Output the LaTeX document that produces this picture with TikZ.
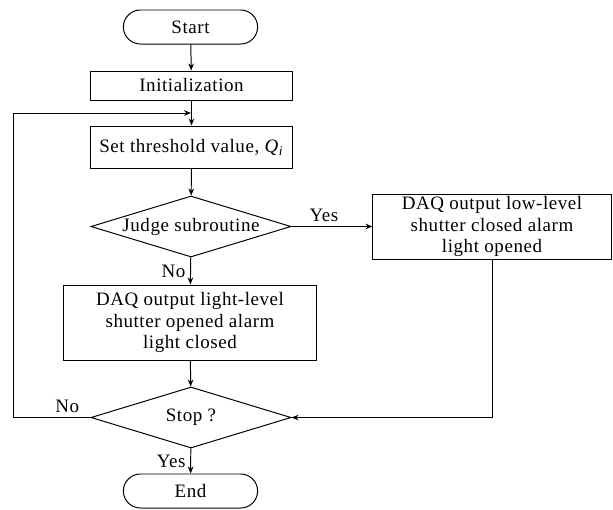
\documentclass[tikz,border=0pt]{standalone}
\usepackage{fontspec}
\setmainfont{Liberation Serif}[LetterSpace=3]
\usetikzlibrary{shapes.geometric,shapes.misc,arrows.meta}
\begin{document}
\begin{tikzpicture}[x=0.025cm,y=-0.025cm,
  line width=0.7pt, font=\fontsize{13.5}{15.5}\selectfont,
  >={Stealth[length=5pt,width=4pt]},
  terminal/.style={draw, rounded rectangle, minimum width=3.425cm, minimum height=0.85cm, inner sep=1pt},
  process/.style={draw, rectangle, align=center, inner sep=1pt},
  decision/.style={draw, diamond, minimum width=5cm, minimum height=1.525cm, inner sep=0pt, aspect=3.3}]
\useasboundingbox (0,0) rectangle (613,509);
\node[terminal] (start) at (190.5,27) {Start};
\node[process, minimum width=5.025cm, minimum height=0.725cm] (init) at (191.5,85.5) {Initialization};
\node[process, minimum width=5.025cm, minimum height=1.05cm] (set) at (191.5,147) {Set threshold value, \textit{Q}\textsubscript{\textit{i}}};
\node[decision] (judge) at (191,226.5) {Judge subroutine};
\node[process, minimum width=5.95cm, minimum height=1.625cm] (low) at (492,226.5) {DAQ output low-level\\shutter closed alarm\\light opened};
\node[process, minimum width=6.3cm, minimum height=1.875cm] (light) at (190,322.5) {DAQ output light-level\\shutter opened alarm\\light closed};
\node[decision] (stop) at (191,417.5) {Stop ?};
\node[terminal] (end) at (190.5,491) {End};
\coordinate (join) at (191,113);
\coordinate (edge) at (13,417.5);
\draw[->] (start) -- (init);
\draw[->] (init) -- (set);
\draw[->] (set) -- (judge);
\draw[->] (judge) -- node[above, pos=0.4] {Yes} (low);
\draw[->] (judge) -- node[left] {No} (light);
\draw[->] (light) -- (stop);
\draw[->] (low.south) |- (stop.east);
\draw[->] (stop.west) -- node[above, pos=0.3] {No} (edge) |- (join);
\draw[->] (stop) -- node[left] {Yes} (end);
\end{tikzpicture}
\end{document}
